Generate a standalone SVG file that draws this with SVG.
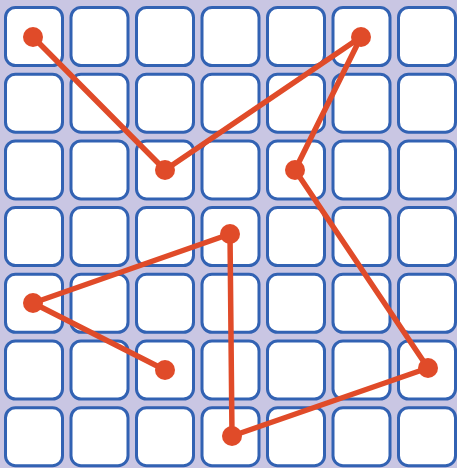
<svg xmlns="http://www.w3.org/2000/svg" width="457" height="468" viewBox="0 0 457 468">
<defs>
<style>
.c{fill:#ffffff;stroke:#3262b3;stroke-width:3}
.e{fill:none;stroke:#e04b29;stroke-width:5.5;stroke-linecap:round;stroke-linejoin:round}
.d{fill:#e04b29}
</style>
<rect id="cell" class="c" x="0" y="0" width="57" height="58" rx="10"/>
</defs>
<rect x="0" y="0" width="457" height="468" fill="#c9c6e3"/>
<g id="grid">
<g id="row0" transform="translate(0,7.5)">
<use href="#cell" x="5.5"/><use href="#cell" x="71"/><use href="#cell" x="136.5"/><use href="#cell" x="202"/><use href="#cell" x="267.5"/><use href="#cell" x="333"/><use href="#cell" x="398.5"/>
</g>
<g id="row1" transform="translate(0,74.2)">
<use href="#cell" x="5.5"/><use href="#cell" x="71"/><use href="#cell" x="136.5"/><use href="#cell" x="202"/><use href="#cell" x="267.5"/><use href="#cell" x="333"/><use href="#cell" x="398.5"/>
</g>
<g id="row2" transform="translate(0,140.9)">
<use href="#cell" x="5.5"/><use href="#cell" x="71"/><use href="#cell" x="136.5"/><use href="#cell" x="202"/><use href="#cell" x="267.5"/><use href="#cell" x="333"/><use href="#cell" x="398.5"/>
</g>
<g id="row3" transform="translate(0,207.6)">
<use href="#cell" x="5.5"/><use href="#cell" x="71"/><use href="#cell" x="136.5"/><use href="#cell" x="202"/><use href="#cell" x="267.5"/><use href="#cell" x="333"/><use href="#cell" x="398.5"/>
</g>
<g id="row4" transform="translate(0,274.3)">
<use href="#cell" x="5.5"/><use href="#cell" x="71"/><use href="#cell" x="136.5"/><use href="#cell" x="202"/><use href="#cell" x="267.5"/><use href="#cell" x="333"/><use href="#cell" x="398.5"/>
</g>
<g id="row5" transform="translate(0,341)">
<use href="#cell" x="5.5"/><use href="#cell" x="71"/><use href="#cell" x="136.5"/><use href="#cell" x="202"/><use href="#cell" x="267.5"/><use href="#cell" x="333"/><use href="#cell" x="398.5"/>
</g>
<g id="row6" transform="translate(0,407.7)">
<use href="#cell" x="5.5"/><use href="#cell" x="71"/><use href="#cell" x="136.5"/><use href="#cell" x="202"/><use href="#cell" x="267.5"/><use href="#cell" x="333"/><use href="#cell" x="398.5"/>
</g>
</g>
<g id="connectors">
<polyline class="e" points="33,37 165,170 361,37 295,170 428,368 232,436 230,234 33,303 165,370"/>
</g>
<g id="points">
<circle id="p1" class="d" cx="33" cy="37" r="10"/>
<circle id="p2" class="d" cx="165" cy="170" r="10"/>
<circle id="p3" class="d" cx="361" cy="37" r="10"/>
<circle id="p4" class="d" cx="295" cy="170" r="10"/>
<circle id="p5" class="d" cx="428" cy="368" r="10"/>
<circle id="p6" class="d" cx="232" cy="436" r="10"/>
<circle id="p7" class="d" cx="230" cy="234" r="10"/>
<circle id="p8" class="d" cx="33" cy="303" r="10"/>
<circle id="p9" class="d" cx="165" cy="370" r="10"/>
</g>
</svg>
